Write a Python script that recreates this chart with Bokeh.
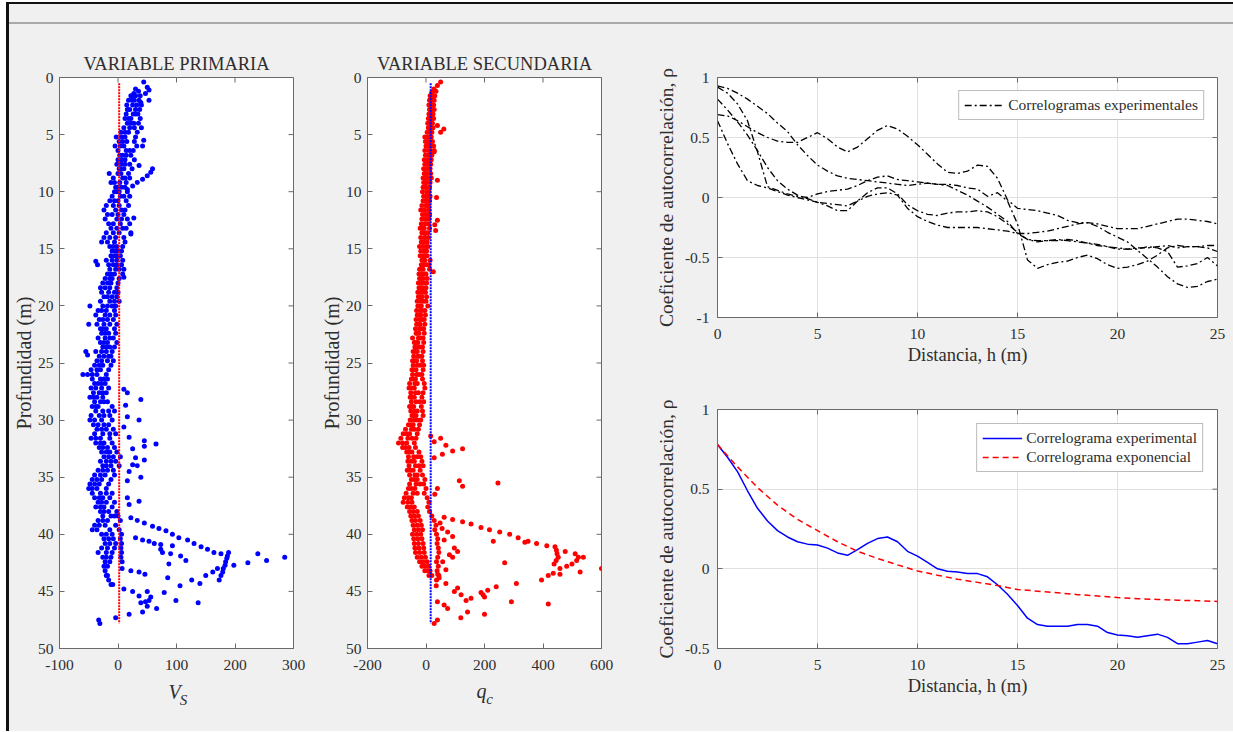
from bokeh.plotting import figure
from bokeh.models import (Range1d, FixedTicker, CustomJSTickFormatter,
                          Legend, LegendItem, Spacer)
from bokeh.layouts import row, column
from bokeh.embed import file_html
from bokeh.resources import INLINE
from bokeh.core.properties import value

nan = float("nan")

# ---------------- data: panel 1 (V_S residuals) and panel 2 (q_c residuals) -------------
depth_band = [1.6, 2.0, 2.4, 2.8, 3.2, 3.6, 4.0, 4.4, 4.8, 5.2,
              5.6, 6.0, 6.4, 6.8, 7.2, 7.6, 8.0, 8.4, 8.8, 9.2,
              9.6, 10.0, 10.4, 10.8, 11.2, 11.6, 12.0, 12.4, 12.8, 13.2,
              13.6, 14.0, 14.4, 14.8, 15.2, 15.6, 16.0, 16.4, 16.8, 17.2,
              17.6, 18.0, 18.4, 18.8, 19.2, 19.6, 20.0, 20.4, 20.8, 21.2,
              21.6, 22.0, 22.4, 22.8, 23.2, 23.6, 24.0, 24.4, 24.8, 25.2,
              25.6, 26.0, 26.4, 26.8, 27.2, 27.6, 28.0, 28.4, 28.8, 29.2,
              29.6, 30.0, 30.4, 30.8, 31.2, 31.6, 32.0, 32.4, 32.8, 33.2,
              33.6, 34.0, 34.4, 34.8, 35.2, 35.6, 36.0, 36.4, 36.8, 37.2,
              37.6, 38.0, 38.4, 38.8, 39.2, 39.6, 40.0, 40.4, 40.8, 41.2,
              41.6, 42.0, 42.4, 42.8, 43.2, 43.6, 44.0, 44.4]

vs_a = [22, 18, 15, 20, 14, 12, 16, 10, 5, -3,
        2, -5, 0, 3, 0, -2, 2, -15, -8, -12,
        -4, -6, -10, -14, -20, -24, -18, -22, -16, -12,
        -20, -24, -28, -14, -10, -12, -20, -16, -14, -18,
        -22, -26, -30, -28, -24, -30, -26, -34, -38, -32,
        -36, -30, -28, -34, -30, -26, -38, -32, -36, -40,
        -46, -52, -44, -40, -46, -42, -48, -40, -44, -38,
        -46, -48, -42, -36, -40, -46, -38, -32, -28, -24,
        -30, -26, -34, -40, -44, -48, -50, -44, -40, -34,
        -38, -30, -26, -34, -40, -44, -28, -24, -22, -28,
        -34, -26, -22, -18, -22, -20, -16, -12]
vs_b = [30, 28, 25, 30, 26, 22, 27, 20, 18, 12,
        15, 10, 14, 8, 12, 6, 10, 5, 8, 3,
        6, 2, 4, 0, 2, -4, 0, -2, 4, -2,
        2, -4, -6, -2, -4, -6, -2, -8, -4, -6,
        -10, -12, -14, -16, -10, -14, -18, -20, -22, -18,
        -24, -20, -16, -22, -18, -14, -20, -24, -18, -26,
        -30, -36, -30, -34, -28, -32, -36, -30, -34, -26,
        -32, -28, -24, -20, -26, -30, -24, -18, -14, -16,
        -20, -12, -18, -22, -28, -32, -36, -30, -26, -20,
        -24, -16, -12, -18, -22, -14, -10, -8, -4, -6,
        -10, -12, -14, nan, nan, nan, nan, nan]
vs_c = [38, 36, 40, 37, 34, 38, 35, 40, 33, 30,
        28, 32, 26, 22, 28, 20, 24, 18, 20, 14,
        12, 16, 20, 14, 18, 12, 10, 16, 20, 14,
        22, 10, 12, 8, 6, 4, 8, 6, 10, 8,
        2, 0, -2, 0, -2, 2, -4, -6, -4, -8,
        -2, -6, -4, -8, -2, -6, -10, -12, -8, -12,
        -16, -20, -18, -22, -16, -20, -26, -18, -10, -6,
        -14, -10, -16, -8, -4, -14, -10, -6, -2, 4,
        -4, 2, -8, -6, -12, -16, -20, -10, -14, -6,
        -10, -2, 0, 4, -4, 2, 6, 4, 6, 5,
        6, 5, 7, nan, nan, nan, nan, nan]
vs_d = [26, 24, 32, 16, 30, 18, 22, 28, 12, 6,
        8, 4, 20, 14, 6, 12, 4, 0, 12, -6,
        0, -2, 10, -6, -8, 6, -10, 6, -8, 8,
        -8, -14, -18, -8, 0, -2, -10, -2, 2, -12,
        -14, -18, -22, -6, -18, -6, -10, -28, -14, -26,
        -14, -26, -22, -14, -24, -20, -28, -16, -28, -32,
        -36, -44, -24, -28, -38, -26, -42, -24, -38, -16,
        -24, -40, -34, -28, -14, -38, -30, -26, -20, -8,
        -12, -20, -26, -30, -36, -40, -44, -20, -32, -28,
        -30, -24, -6, -26, -32, -36, -20, -16, -14, -18,
        -20, -20, nan, -24, nan, -18, nan, -9]
# isolated points (value, depth)
vs_extra = [(44, 0.4), (50, 0.85), (53, 1.1), (47, 1.4), (53, 2.0), (39, 2.2), (27, 1.4), (25, 1.7),
            (35, 1.2), (30, 1.0),
            (44, 5.5), (42, 6.0), (36, 7.7), (59, 8.0), (56, 8.3), (50, 8.6), (42, 8.9), (33, 9.2),
            (25, 9.5), (16, 9.8), (27, 12.3), (22, 13.7), (-38, 16.1), (-35, 16.4), (10, 17.5),
            (-48, 20.0), (-50, 21.6), (-55, 24.0), (-52, 24.3), (-60, 26.0),
            (10, 27.3), (16, 27.6), (39, 28.2), (13, 28.7), (16, 29.7), (36, 30.0), (10, 30.6),
            (19, 31.5), (45, 31.8), (65, 32.1), (45, 32.3), (25, 32.5), (30, 33.3), (45, 33.5),
            (25, 33.9), (33, 34.0), (19, 34.5), (39, 35.0), (16, 35.3), (16, 36.8), (36, 37.1), (19, 37.4),
            (22, 38.56), (33, 38.8), (45, 39.0), (59, 39.3), (70, 39.5), (82, 39.7), (93, 40.0),
            (104, 40.3), (119, 40.5), (130, 40.8), (142, 41.1), (153, 41.3), (164, 41.6), (176, 41.7),
            (189, 41.6),
            (30, 40.3), (42, 40.5), (53, 40.6), (62, 40.8), (73, 40.9), (73, 41.3), (76, 41.6),
            (93, 41.0), (90, 41.7), (107, 41.9), (116, 42.3), (87, 42.6),
            (187, 41.9), (186, 42.1), (184, 42.4), (183, 42.7), (180, 43.0), (179, 43.3), (176, 43.6),
            (173, 44.0), (198, 42.7), (222, 42.5), (239, 41.7), (254, 42.3), (285, 42.0),
            (7, 43.0), (22, 43.2), (36, 43.3), (46, 43.5), (85, 43.8), (106, 44.5), (126, 44.0),
            (140, 44.3), (150, 43.6), (162, 43.3), (170, 43.0),
            (10, 44.8), (25, 45.0), (36, 45.4), (50, 45.0), (56, 45.5), (53, 45.8), (39, 46.0),
            (47, 45.9), (50, 46.3), (66, 46.5), (42, 46.8), (19, 47.0), (79, 45.1), (99, 45.8),
            (137, 46.0), (-33, 47.5), (-31, 47.8), (-4, 47.3)]
vs_mean_x = [2, 2]
vs_mean_depth = [0.5, 47.8]

qc_a = [14, 12, 10, 12, 10, 8, 6, 8, 4, -4,
        -2, 0, -4, -2, -6, -4, -8, -6, -10, -8,
        -10, -12, -8, -10, -14, -18, -12, -14, -16, -20,
        -14, -18, -16, -22, -18, -20, -14, -16, -22, -24,
        -22, -26, -24, -28, -26, -30, -28, -32, -30, -34,
        -32, -36, -34, -46, -40, -38, -44, -42, -46, -44,
        -48, -46, -50, -56, -58, -52, -54, -50, -56, -52,
        -48, -54, -60, -70, -78, -86, -94, -80, -66, -60,
        -62, -58, -64, -56, -50, -56, -60, -68, -74, -78,
        -64, -56, -52, -48, -44, -40, -46, -42, -40, -38,
        -36, -30, -22, -14, -4, nan, nan, nan]
qc_b = [22, 20, 18, 20, 16, 18, 14, 16, 12, 8,
        10, 12, 8, 10, 6, 8, 4, 6, 2, 4,
        0, 2, 4, 0, -2, -4, -2, 0, -4, -6,
        -2, -6, -8, -10, -6, -8, -4, -6, -10, -12,
        -10, -14, -12, -16, -14, -18, -16, -20, -18, -22,
        -20, -22, -24, -26, -28, -26, -30, -28, -32, -30,
        -34, -32, -36, -38, -40, -36, -40, -34, -42, -38,
        -34, -40, -44, -50, -56, -62, -66, -58, -48, -42,
        -40, -36, -44, -38, -30, -34, -38, -44, -50, -48,
        -40, -30, -26, -20, -16, -12, -18, -14, -10, -8,
        -6, -2, 4, 8, 14, 20, nan, nan]
qc_c = [30, 28, 26, 28, 24, 26, 22, 24, 20, 18,
        22, 26, 28, 20, 18, 16, 14, 16, 18, 14,
        12, 10, 14, 12, 8, 10, 12, 10, 8, 12,
        6, 8, 4, 6, 2, 4, 14, 10, 12, 0,
        4, 2, 0, -2, 2, 0, 6, -4, -2, -6,
        -4, -8, -6, -10, -8, -12, -10, -14, -12, -8,
        -10, -14, -12, -6, -4, -10, -14, -8, -16, -12,
        -10, -18, -22, -26, -30, -34, -40, -36, -24, -18,
        -14, -10, -20, -12, -4, -8, 0, -6, 4, 10,
        6, 12, 20, 28, 34, 30, 36, 40, 38, 42,
        44, 40, 36, 42, 38, 44, 36, nan]
qc_d = [18, 16, 24, 14, 20, 12, 18, 10, 16, 2,
        6, 4, 16, 4, 12, 0, 10, -2, 6, -2,
        -4, 6, -2, 6, 4, -10, 6, -8, 2, -12,
        -8, -2, -12, 0, -12, -2, -8, 2, -16, -4,
        -16, -6, -18, -8, -20, -10, -22, -14, -24, -14,
        -26, -14, -30, -18, -34, -20, -36, -22, -38, -20,
        -42, -24, -44, -30, -48, -26, -46, -22, -48, -30,
        -42, -30, -50, -40, -66, -48, -80, -70, -56, -30,
        -50, -24, -54, -30, -40, -20, -50, -30, -60, -62,
        -52, -44, -40, -36, -30, -26, -32, -28, -26, -24,
        -22, -16, -10, -4, 4, 10, nan, nan]
qc_extra = [(50, 0.4), (39, 0.7), (27, 1.0), (34, 1.2), (20, 1.3),
            (39, 4.2), (61, 4.5), (50, 4.8), (39, 9.0), (36, 10.5), (39, 12.5), (33, 13.4), (30, 12.9),
            (28, 6.5), (25, 17.0),
            (16, 31.4), (50, 31.6), (28, 31.9), (68, 32.2), (91, 32.7), (125, 32.5), (28, 33.3),
            (56, 33.0), (114, 35.3), (125, 35.8), (246, 35.5), (39, 36.0), (30, 36.5),
            (62, 38.5), (91, 38.7), (125, 38.9), (154, 39.1), (188, 39.4), (217, 39.6), (252, 39.8),
            (286, 40.0), (315, 40.3), (338, 40.7), (349, 40.6), (378, 40.8), (413, 41.0), (441, 41.1),
            (446, 41.4), (448, 41.7), (452, 42.0), (445, 42.3), (438, 42.6), (476, 41.5), (510, 41.7),
            (521, 42.0), (538, 42.0), (515, 42.3), (499, 42.6), (481, 42.8), (458, 43.0), (527, 43.3),
            (600, 43.0), (269, 42.5), (230, 40.6),
            (74, 39.8), (91, 40.2), (97, 41.2), (108, 41.5), (91, 42.0), (68, 43.1), (57, 42.4),
            (62, 40.5), (80, 41.8), (48, 39.0), (55, 39.5),
            (395, 44.0), (418, 43.6), (435, 43.4), (458, 43.5), (309, 44.3), (240, 44.6), (211, 44.9),
            (188, 45.1), (200, 45.5), (154, 45.6), (137, 45.8), (292, 45.9), (418, 46.1), (200, 47.0),
            (142, 46.8), (119, 47.3), (39, 47.5), (28, 47.8), (74, 46.5), (62, 46.2), (39, 45.9),
            (97, 45.0), (108, 44.7), (68, 44.3), (45, 43.8), (40, 43.5), (35, 44.5), (195, 45.3),
            (120, 45.3)]
qc_mean_x = [16, 16]
qc_mean_depth = [0.5, 47.8]

depth_ticks = [0, 5, 10, 15, 20, 25, 30, 35, 40, 45, 50]
vs_ticks = [-100, 0, 100, 200, 300]
qc_ticks = [-200, 0, 200, 400, 600]

# ---------------- data: correlograms ----------------
h = [0, 0.5, 1, 1.5, 2, 2.5, 3, 3.5, 4, 4.5,
     5, 5.5, 6, 6.5, 7, 7.5, 8, 8.5, 9, 9.5,
     10, 10.5, 11, 11.5, 12, 12.5, 13, 13.5, 14, 14.5,
     15, 15.5, 16, 16.5, 17, 17.5, 18, 18.5, 19, 19.5,
     20, 20.5, 21, 21.5, 22, 22.5, 23, 23.5, 24, 24.5, 25]
rho_1 = [0.93, 0.91, 0.87, 0.82, 0.76, 0.70, 0.62, 0.55, 0.44, 0.35,
         0.27, 0.22, 0.18, 0.16, 0.15, 0.14, 0.13, 0.12, 0.11, 0.10,
         0.11, 0.12, 0.11, 0.11, 0.10, 0.08, 0.07, 0.01, 0.04, -0.03,
         -0.22, -0.52, -0.59, -0.56, -0.54, -0.53, -0.50, -0.48, -0.51, -0.56,
         -0.59, -0.58, -0.56, -0.53, -0.48, -0.42, -0.40, -0.41, -0.41, -0.40, -0.40]
rho_2 = [0.69, 0.68, 0.64, 0.59, 0.54, 0.50, 0.47, 0.46, 0.46, 0.50,
         0.54, 0.49, 0.42, 0.38, 0.42, 0.49, 0.56, 0.60, 0.57, 0.51,
         0.44, 0.36, 0.28, 0.21, 0.20, 0.22, 0.27, 0.26, 0.16, -0.02,
         -0.09, -0.10, -0.11, -0.13, -0.15, -0.19, -0.21, -0.21, -0.22, -0.24,
         -0.26, -0.26, -0.26, -0.24, -0.22, -0.20, -0.18, -0.18, -0.19, -0.20, -0.22]
rho_3 = [0.92, 0.87, 0.78, 0.64, 0.38, 0.09, 0.06, 0.03, 0.01, 0.00,
         0.03, 0.05, 0.06, 0.07, 0.10, 0.14, 0.17, 0.18, 0.15, 0.14,
         0.13, 0.12, 0.11, 0.10, 0.06, 0.02, -0.03, -0.08, -0.14, -0.20,
         -0.30, -0.35, -0.36, -0.36, -0.35, -0.36, -0.37, -0.38, -0.39, -0.41,
         -0.43, -0.43, -0.42, -0.42, -0.41, -0.40, -0.42, -0.41, -0.41, -0.42, -0.45]
rho_4 = [0.82, 0.73, 0.63, 0.52, 0.39, 0.25, 0.14, 0.07, 0.02, -0.01,
         -0.04, -0.05, -0.06, -0.07, -0.03, 0.04, 0.08, 0.08, 0.03, -0.06,
         -0.11, -0.14, -0.15, -0.13, -0.12, -0.12, -0.11, -0.12, -0.16, -0.22,
         -0.29, -0.35, -0.37, -0.36, -0.36, -0.35, -0.36, -0.38, -0.40, -0.41,
         -0.42, -0.43, -0.43, -0.41, -0.42, -0.45, -0.58, -0.57, -0.55, -0.50, -0.57]
rho_5 = [0.64, 0.45, 0.28, 0.14, 0.10, 0.08, 0.05, 0.02, 0.00, -0.02,
         -0.04, -0.07, -0.11, -0.11, -0.03, 0.01, 0.03, 0.04, 0.02, -0.09,
         -0.16, -0.20, -0.23, -0.25, -0.25, -0.25, -0.25, -0.26, -0.27, -0.28,
         -0.30, -0.30, -0.29, -0.28, -0.26, -0.24, -0.22, -0.21, -0.24, -0.29,
         -0.33, -0.37, -0.44, -0.51, -0.58, -0.66, -0.72, -0.75, -0.74, -0.70, -0.68]
rho_exp = [0.78, 0.70, 0.61, 0.49, 0.38, 0.30, 0.24, 0.20, 0.17, 0.155,
           0.15, 0.13, 0.10, 0.085, 0.12, 0.16, 0.19, 0.20, 0.17, 0.11,
           0.08, 0.04, 0.00, -0.015, -0.02, -0.03, -0.03, -0.05, -0.10, -0.16,
           -0.23, -0.31, -0.35, -0.36, -0.36, -0.36, -0.35, -0.35, -0.36, -0.40,
           -0.415, -0.42, -0.43, -0.42, -0.41, -0.43, -0.47, -0.47, -0.46, -0.45, -0.47]
h_fit = [0, 1, 2, 3, 4, 5, 6, 7, 8, 9, 10, 11, 12, 13, 14, 15, 16, 17, 18, 19, 20, 21, 22, 23, 24, 25]
rho_fit = [0.78, 0.64, 0.51, 0.40, 0.31, 0.24, 0.17, 0.11, 0.065, 0.025, -0.013, -0.04, -0.065,
           -0.085, -0.105, -0.13, -0.14, -0.15, -0.162, -0.17, -0.18, -0.187, -0.192, -0.197,
           -0.20, -0.205]
h_ticks = [0, 5, 10, 15, 20, 25]
rho_ticks_top = [-1, -0.5, 0, 0.5, 1]
rho_ticks_bottom = [-0.5, 0, 0.5, 1]

# ---------------- styling helpers ----------------
FONT = "Liberation Serif"
BG = "#f0f0f0"
AXC = "#6a6a6a"
TXT = "#2e2e2e"
GRID = "#e0e0e0"
TICK_PX = 5
BGSTYLE = {"background-color": BG}


def make_fig(width, height, xr, yr, left, right, top, bottom):
    p = figure(width=width, height=height, x_range=xr, y_range=yr,
               output_backend="svg", toolbar_location=None,
               min_border_left=left, min_border_right=right,
               min_border_top=top, min_border_bottom=bottom)
    p.background_fill_color = "white"
    p.border_fill_color = BG
    p.outline_line_color = AXC
    p.outline_line_width = 1
    return p


def setup_axes(p, xticks, yticks, grid, xlabel, ylabel, ylab_size, ylab_standoff, ytick_standoff,
               frame_w, frame_h):
    fmt = CustomJSTickFormatter(code="return String(Math.round(tick*10)/10);")
    p.xaxis.ticker = FixedTicker(ticks=xticks, minor_ticks=[])
    p.yaxis.ticker = FixedTicker(ticks=yticks, minor_ticks=[])
    for ax in [p.xaxis[0], p.yaxis[0]]:
        ax.formatter = fmt
        ax.major_tick_in = TICK_PX
        ax.major_tick_out = 0
        ax.minor_tick_line_color = None
        ax.axis_line_color = AXC
        ax.major_tick_line_color = AXC
        ax.major_label_text_font = FONT
        ax.major_label_text_font_size = "15.5px"
        ax.major_label_text_color = TXT
        ax.axis_label_text_font = FONT
        ax.axis_label_text_font_style = "normal"
        ax.axis_label_text_color = TXT
    p.xaxis.major_label_standoff = 11
    p.yaxis.major_label_standoff = ytick_standoff
    p.xaxis.axis_label_text_font_size = "18.5px"
    p.xaxis.axis_label_standoff = 3
    p.yaxis.axis_label_text_font_size = ylab_size
    p.yaxis.axis_label_standoff = ylab_standoff
    if xlabel:
        p.xaxis.axis_label = xlabel
    if ylabel:
        p.yaxis.axis_label = ylabel
    # inward tick marks on the top and right sides of the box
    xr, yr = p.x_range, p.y_range
    dy = TICK_PX * (yr.end - yr.start) / frame_h
    dx = TICK_PX * (xr.end - xr.start) / frame_w
    p.segment(x0=xticks, y0=[yr.end] * len(xticks), x1=xticks, y1=[yr.end - dy] * len(xticks),
              color=AXC, line_width=1)
    p.segment(x0=[xr.end] * len(yticks), y0=yticks, x1=[xr.end - dx] * len(yticks), y1=yticks,
              color=AXC, line_width=1)
    if grid:
        p.xgrid.ticker = FixedTicker(ticks=xticks, minor_ticks=[])
        p.ygrid.ticker = FixedTicker(ticks=yticks, minor_ticks=[])
        p.grid.grid_line_color = GRID
        p.grid.grid_line_width = 1
    else:
        p.grid.visible = False


def set_title(p, text):
    p.title.text = text
    p.title.align = "center"
    p.title.text_font = FONT
    p.title.text_font_size = "18.5px"
    p.title.text_font_style = "normal"
    p.title.text_color = TXT
    p.title.standoff = 7


def label_strip(width, height, xr, left, right, parts):
    s = figure(width=width, height=height, x_range=xr, y_range=Range1d(0, height),
               output_backend="svg", toolbar_location=None,
               x_axis_location=None, y_axis_location=None,
               min_border_left=left, min_border_right=right, min_border_top=0, min_border_bottom=0)
    s.background_fill_color = BG
    s.border_fill_color = BG
    s.outline_line_color = None
    s.grid.visible = False
    for (tx, ty, txt, size) in parts:
        s.text(x=[tx], y=[ty], text=[txt], text_font=value(FONT), text_font_size=size,
               text_font_style="italic", text_color=TXT, text_align="center",
               text_baseline="alphabetic")
    return s


# ---------------- panel 1 ----------------
p1 = make_fig(303, 654, Range1d(-100, 300), Range1d(50, 0), 50, 19, 53, 30)
setup_axes(p1, vs_ticks, depth_ticks, False, None, "Profundidad (m)", "20px", 0, 6, 234, 571)
p1_x = vs_a + vs_b + vs_c + vs_d + [v for v, d in vs_extra]
p1_y = depth_band * 4 + [d for v, d in vs_extra]
p1.scatter(p1_x, p1_y, size=5, color="#0000ff", line_color=None)
p1.line(vs_mean_x, vs_mean_depth, color="#ff0000", line_width=2, line_dash="2 1")
set_title(p1, "VARIABLE PRIMARIA")
s1 = label_strip(303, 53, Range1d(-100, 300), 50, 19,
                 [(96.6, 40, "V", "20px"), (112, 32, "S", "15px")])

# ---------------- panel 2 ----------------
p2 = make_fig(328, 654, Range1d(-200, 600), Range1d(50, 0), 55, 39, 53, 30)
setup_axes(p2, qc_ticks, depth_ticks, False, None, "Profundidad (m)", "20px", 0, 6, 234, 571)
p2_x = qc_a + qc_b + qc_c + qc_d + [v for v, d in qc_extra]
p2_y = depth_band * 4 + [d for v, d in qc_extra]
p2.scatter(p2_x, p2_y, size=5, color="#ff0000", line_color=None)
p2.line(qc_mean_x, qc_mean_depth, color="#0000ff", line_width=2, line_dash="2 1")
set_title(p2, "VARIABLE SECUNDARIA")
s2 = label_strip(328, 53, Range1d(-200, 600), 55, 39,
                 [(190, 41, "q", "20px"), (217, 33, "c", "15px")])

# ---------------- panel 3 ----------------
p3 = make_fig(593, 346, Range1d(0, 25), Range1d(-1, 1), 77, 16, 53, 53)
setup_axes(p3, h_ticks, rho_ticks_top, True, "Distancia, h (m)",
           "Coeficiente de autocorrelación, ρ", "19.5px", 5, 8, 500, 240)
dash_dot = "7 3 2 3"
rs = []
for series in (rho_1, rho_2, rho_3, rho_4, rho_5):
    rs.append(p3.line(h, series, color="black", line_width=1.3, line_dash=dash_dot))
leg3 = Legend(items=[LegendItem(label="Correlogramas experimentales", renderers=[rs[0]])],
              location="top_right")
p3.add_layout(leg3)

# ---------------- panel 4 ----------------
p4 = make_fig(593, 361, Range1d(0, 25), Range1d(-0.5, 1), 77, 16, 39, 83)
setup_axes(p4, h_ticks, rho_ticks_bottom, True, "Distancia, h (m)",
           "Coeficiente de autocorrelación, ρ", "19.5px", 5, 8, 500, 239)
r_exp = p4.line(h, rho_exp, color="#0000ff", line_width=1.5)
r_fit = p4.line(h_fit, rho_fit, color="#ff0000", line_width=1.5, line_dash="6 4")
leg4 = Legend(items=[LegendItem(label="Correlograma experimental", renderers=[r_exp]),
                     LegendItem(label="Correlograma exponencial", renderers=[r_fit])],
              location="top_right")
p4.add_layout(leg4)

for lg, mg in ((leg3, 13), (leg4, 14)):
    lg.margin = mg
    lg.padding = 5
    lg.spacing = 1
    lg.glyph_width = 40
    lg.glyph_height = 18
    lg.label_height = 18
    lg.label_standoff = 4
    lg.label_text_font = FONT
    lg.label_text_font_size = "15.5px"
    lg.label_text_color = TXT
    lg.border_line_color = "#7a7a7a"
    lg.border_line_width = 1
    lg.background_fill_color = "white"
    lg.background_fill_alpha = 1.0

# ---------------- layout ----------------
MAIN_W = 303 + 328 + 593
main = row(column(p1, s1, spacing=0, styles=BGSTYLE),
           column(p2, s2, spacing=0, styles=BGSTYLE),
           column(p3, p4, spacing=0, styles=BGSTYLE),
           spacing=0, styles=BGSTYLE)
right_block = column(Spacer(width=MAIN_W, height=2, styles={"background-color": "#111111"}),
                     Spacer(width=MAIN_W, height=18, styles=BGSTYLE),
                     Spacer(width=MAIN_W, height=2, styles={"background-color": "#a9a9a9"}),
                     main, spacing=0, styles=BGSTYLE)
framed = row(Spacer(width=3, height=729, styles={"background-color": "#111111"}), right_block,
             spacing=0)
layout = row(Spacer(width=6, height=10),
             column(Spacer(width=MAIN_W + 3, height=2), framed, spacing=0),
             spacing=0)

open("out.html", "w").write(file_html(layout, INLINE))
